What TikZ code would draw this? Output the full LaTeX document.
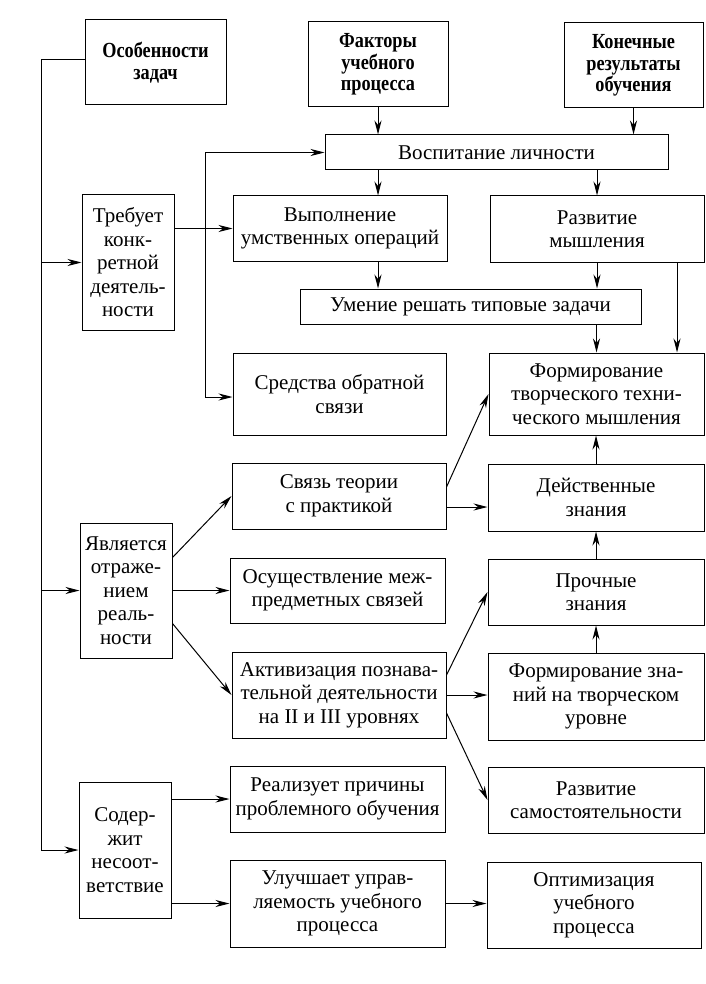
\documentclass[tikz,border=0pt]{standalone}
\usepackage{fontspec}
\setmainfont{Liberation Serif}
\newfontfamily\hdfont[FakeStretch=0.85]{Liberation Serif}
\usetikzlibrary{arrows.meta}
\begin{document}
\begin{tikzpicture}[x=1pt,y=-1pt,
  box/.style={draw, line width=1pt, inner sep=0pt, align=center,
    font=\fontsize{21}{23.5}\selectfont},
  hbox/.style={box, font=\hdfont\fontsize{21.5}{21.5}\selectfont\bfseries},
  conn/.style={line width=1pt},
  arr/.style={conn, -{Stealth[length=14pt,width=7pt,inset=4.5pt]}}]
\useasboundingbox (0,0) rectangle (705,984);
% boxes
\node[hbox, minimum width=141pt, minimum height=85pt] (osob) at (155.5,62.5) {Особенности\\задач};
\node[hbox, minimum width=140pt, minimum height=85pt] (fakt) at (378,64.5) {Факторы\\учебного\\процесса};
\node[hbox, minimum width=139pt, minimum height=85pt] (kon) at (633.5,65.5) {Конечные\\результаты\\обучения};
\node[box, minimum width=343pt, minimum height=35pt] (vosp) at (496.5,152.5) {Воспитание личности};
\node[box, minimum width=92pt, minimum height=135pt] (treb) at (128,262.5) {Требует\\конк-\\ретной\\деятель-\\ности};
\node[box, minimum width=214pt, minimum height=65pt] (vyp) at (340,228.5) {Выполнение\\умственных операций};
\node[box, minimum width=214pt, minimum height=66pt] (razm) at (597,229) {Развитие\\мышления};
\node[box, minimum width=341pt, minimum height=35pt] (umen) at (470.5,306.5) {Умение решать типовые задачи};
\node[box, minimum width=213pt, minimum height=82pt] (sred) at (339.5,394) {Средства обратной\\связи};
\node[box, minimum width=215pt, minimum height=82pt] (ftt) at (596.5,394) {Формирование\\творческого техни-\\ческого мышления};
\node[box, minimum width=214pt, minimum height=66pt] (svyaz) at (339,496) {Связь теории\\с практикой};
\node[box, minimum width=216pt, minimum height=67pt] (deyst) at (596,497.5) {Действенные\\знания};
\node[box, minimum width=92pt, minimum height=135pt] (yavl) at (126,590.5) {Является\\отраже-\\нием\\реаль-\\ности};
\node[box, minimum width=215pt, minimum height=65pt] (osush) at (337.5,590.5) {Осуществление меж-\\предметных связей};
\node[box, minimum width=216pt, minimum height=66pt] (proch) at (596,592) {Прочные\\знания};
\node[box, minimum width=214pt, minimum height=86pt] (aktiv) at (339,695) {Активизация познава-\\тельной деятельности\\на II и III уровнях};
\node[box, minimum width=216pt, minimum height=87pt] (fzn) at (596,696.5) {Формирование зна-\\ний на творческом\\уровне};
\node[box, minimum width=215pt, minimum height=66pt] (real) at (337.5,799) {Реализует причины\\проблемного обучения};
\node[box, minimum width=216pt, minimum height=66pt] (rsam) at (596,800) {Развитие\\самостоятельности};
\node[box, minimum width=92pt, minimum height=136pt] (soder) at (125,850) {Содер-\\жит\\несоот-\\ветствие};
\node[box, minimum width=215pt, minimum height=87pt] (uluch) at (337.5,903.5) {Улучшает управ-\\ляемость учебного\\процесса};
\node[box, minimum width=214pt, minimum height=86pt] (opt) at (594,905) {Оптимизация\\учебного\\процесса};
% helper coordinates
\coordinate (lbot) at (41,850);
\coordinate (J) at (205,228.5);
% left main line
\draw[arr] ([yshift=2.5pt]osob.west) -| (lbot) -- (soder.west);
\draw[arr] (treb.west -| lbot) -- (treb.west);
\draw[arr] (yavl.west -| lbot) -- (yavl.west);
% top arrows
\draw[arr] (fakt.south) -- (fakt.south |- vosp.north);
\draw[arr] (kon.south) -- (kon.south |- vosp.north);
\draw[arr] (fakt.south |- vosp.south) -- (fakt.south |- vyp.north);
\draw[arr] (razm.north |- vosp.south) -- (razm.north);
\draw[arr] (fakt.south |- vyp.south) -- (fakt.south |- umen.north);
\draw[arr] (razm.south) -- (razm.south |- umen.north);
\draw[arr] (ftt.north |- umen.south) -- (ftt.north);
\draw[arr] ([xshift=80pt]razm.south) -- ([xshift=80pt]razm.south |- ftt.north);
% feedback
\draw[arr] (vyp.west -| treb.east) -- (vyp.west);
\draw[arr] (J) |- (vosp.west);
\draw[arr] (J) |- ([yshift=-3pt]sred.west);
% middle
\draw[arr] ([yshift=9pt]svyaz.east) -- (ftt.west);
\draw[arr] ([yshift=-11pt]svyaz.east) -- ([yshift=-11pt]svyaz.east -| deyst.west);
\draw[arr] (deyst.north) -- (deyst.north |- ftt.south);
\draw[arr] (proch.north) -- (proch.north |- deyst.south);
\draw[arr] (fzn.north) -- (fzn.north |- proch.south);
\draw[arr] ([yshift=33pt]yavl.east) -- (svyaz.west);
\draw[arr] (yavl.east) -- (osush.west);
\draw[arr] ([yshift=-33pt]yavl.east) -- (aktiv.west);
\draw[arr] ([yshift=20pt]aktiv.east) -- (proch.west);
\draw[arr] (aktiv.east) -- (aktiv.east -| fzn.west);
\draw[arr] ([yshift=-18pt]aktiv.east) -- (rsam.west);
% bottom
\draw[arr] (real.west -| soder.east) -- (real.west);
\draw[arr] (uluch.west -| soder.east) -- (uluch.west);
\draw[arr] (uluch.east) -- (uluch.east -| opt.west);
\end{tikzpicture}
\end{document}
